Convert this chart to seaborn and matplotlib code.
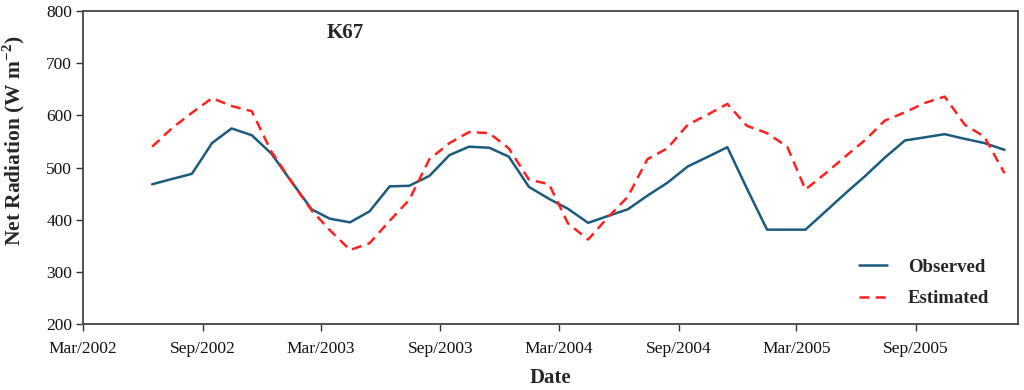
import pandas as pd
import matplotlib
matplotlib.use("Agg")
import matplotlib.pyplot as plt
import seaborn as sns

# monthly values (mid-month), Jun 2002 - Jan 2006
dates = pd.date_range("2002-06-01", periods=44, freq="MS") + pd.Timedelta(days=14)

observed = [468, 478, 488, 547, 575, 562, 527, 473, 420, 402,
            395, 416, 464, 465, 484, 524, 540, 538, 521, 463,
            440, 421, 394, 407, 420, 446, 471, 502, 520, 539,
            460, 381, 381, 381, 416, 450, 484, 519, 552, 558,
            564, 555, 547, 534]

estimated = [540, 575, 605, 633, 618, 608, 531, 473, 418, 380,
             342, 355, 398, 438, 516, 547, 568, 566, 537, 477,
             468, 393, 362, 404, 444, 516, 537, 582, 601, 622,
             580, 566, 540, 458, 489, 521, 553, 590, 606, 624,
             636, 582, 559, 489]

tick_labels = ["Mar/2002", "Sep/2002", "Mar/2003", "Sep/2003",
               "Mar/2004", "Sep/2004", "Mar/2005", "Sep/2005"]
tick_dates = ["2002-03-01", "2002-09-01", "2003-03-01", "2003-09-01",
              "2004-03-01", "2004-09-01", "2005-03-01", "2005-09-01"]

df = pd.DataFrame({
    "Date": list(dates) * 2,
    "value": observed + estimated,
    "series": ["Observed"] * len(observed) + ["Estimated"] * len(estimated),
})

sns.set_style("white")
plt.rcParams["font.family"] = ["Liberation Serif", "DejaVu Serif"]
plt.rcParams["mathtext.fontset"] = "custom"
plt.rcParams["mathtext.rm"] = "Liberation Serif:bold"
plt.rcParams["mathtext.bf"] = "Liberation Serif:bold"

fig = plt.figure(figsize=(10.24, 3.9), dpi=100)
ax = fig.add_axes([0.0813, 0.169, 0.913, 0.8027])

sns.lineplot(data=df, x="Date", y="value", hue="series", style="series",
             palette={"Observed": "#1c5a7e", "Estimated": "#ff2020"},
             dashes={"Observed": "", "Estimated": (4, 2.5)},
             linewidth=1.8, ax=ax)

ax.set_ylim(200, 800)
ax.set_yticks(range(200, 801, 100))
ax.set_xlim(pd.Timestamp("2002-03-01"), pd.Timestamp("2006-02-05"))
ax.set_xticks(pd.to_datetime(tick_dates))
ax.set_xticklabels(tick_labels)

ax.tick_params(axis="both", direction="out", length=5, width=1, labelsize=12.5,
               color="#333333", labelcolor="#111111", pad=3)
ax.tick_params(axis="x", pad=7)
ax.tick_params(bottom=True, left=True)
for s in ax.spines.values():
    s.set_color("#444444")
    s.set_linewidth(1.3)

ax.set_xlabel("Date", fontsize=15, fontweight="bold", labelpad=8)
ax.set_ylabel("Net Radiation (W m$^{-2}$)", fontsize=15.5, fontweight="bold")
ax.yaxis.set_label_coords(-0.060, 0.585)

ax.text(0.280, 0.93, "K67", transform=ax.transAxes, fontsize=15,
        fontweight="bold", ha="center", va="center")

handles, labels = ax.get_legend_handles_labels()
leg = ax.legend(handles, labels, loc="lower right", frameon=False,
                prop={"weight": "bold", "size": 13.5}, handlelength=1.5,
                handletextpad=1.1, labelspacing=0.75,
                bbox_to_anchor=(0.987, 0.0))

fig.savefig("out.png", dpi=100)
